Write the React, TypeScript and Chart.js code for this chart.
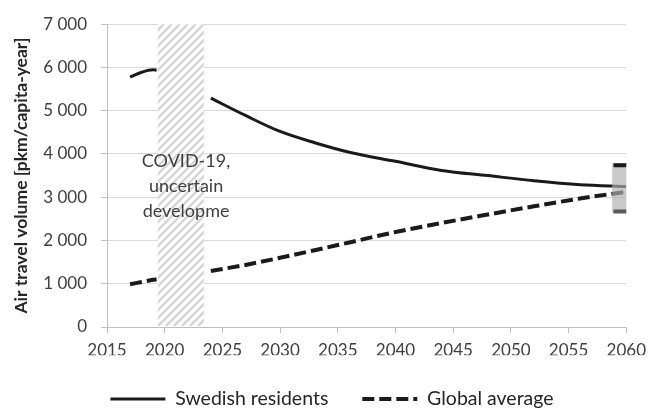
import React, { useEffect, useRef } from "react";
import { Chart, registerables } from "chart.js";

Chart.register(...registerables);

// ---- data ----
const years = [2017, 2018, 2019, 2019.3, 2021, 2024, 2027, 2030, 2033, 2036, 2040, 2044, 2048, 2052, 2056, 2060];
const swedishResidents = [5780, 5890, 5945, 5935, null, 5290, 4890, 4520, 4260, 4040, 3830, 3620, 3500, 3380, 3290, 3250];
const globalAverage = [990, 1040, 1090, 1100, null, 1295, 1435, 1600, 1775, 1955, 2195, 2405, 2600, 2790, 2970, 3125];

const xTickYears = [2015, 2020, 2025, 2030, 2035, 2040, 2045, 2050, 2055, 2060];
const yTickValues = [0, 1000, 2000, 3000, 4000, 5000, 6000, 7000];

const covidStart = 2019.4;
const covidEnd = 2023.4;
const covidTop = 7000;
const covidLabel = ["COVID-19,", "uncertain", "developme"];
const covidLabelYear = 2021.85;
const covidLabelValue = 3690;

const rangeYear = 2059.5;
const rangeLow = 2650;
const rangeHigh = 3780;
const capHigh = [3740];
const capLow = [2670];

const seriesNames = ["Swedish residents", "Global average"];
const yTitle = "Air travel volume [pkm/capita-year]";

// ---- styles ----
const FONT = "Lato, 'Open Sans', sans-serif";
const TICK_COLOR = "#404040";
const PAD_LEFT = 32;
const CHART_LEFT = 107;
const LEGEND_FONT = 19.5;
const LEGEND_PAD = 34;
const X_AXIS_H = 28.25;

const fmt = (v: number) => String(v).replace(/\B(?=(\d{3})+(?!\d))/g, " ");

const covidPlugin = {
  id: "covidBand",
  beforeDatasetsDraw(chart: any) {
    const { ctx, scales } = chart;
    const x = scales.x, y = scales.y;
    const left = x.getPixelForValue(covidStart);
    const right = x.getPixelForValue(covidEnd);
    const top = y.getPixelForValue(covidTop);
    const bottom = y.getPixelForValue(0) - 1;
    ctx.save();
    ctx.fillStyle = "#ffffff";
    ctx.fillRect(left, top, right - left, bottom - top);
    ctx.beginPath();
    ctx.rect(left, top, right - left, bottom - top);
    ctx.clip();
    ctx.beginPath();
    ctx.strokeStyle = "#d6d6d6";
    ctx.lineWidth = 2.6;
    const h = bottom - top;
    for (let s = left - h - 10; s < right + 10; s += 8) {
      ctx.moveTo(s, bottom);
      ctx.lineTo(s + h, top);
    }
    ctx.stroke();
    ctx.restore();
  },
  afterDatasetsDraw(chart: any) {
    const { ctx, scales } = chart;
    const cx = scales.x.getPixelForValue(covidLabelYear);
    const by = scales.y.getPixelForValue(covidLabelValue);
    ctx.save();
    ctx.font = `18px ${FONT}`;
    ctx.fillStyle = TICK_COLOR;
    ctx.textAlign = "center";
    ctx.textBaseline = "alphabetic";
    covidLabel.forEach((t, i) => ctx.fillText(t, cx, by + i * 25));
    ctx.restore();
  },
};

export default function App() {
  const ref = useRef<HTMLCanvasElement>(null);
  useEffect(() => {
    const toPts = (vals: (number | null)[]) => years.map((yr, i) => ({ x: yr, y: vals[i] }));
    const chart = new Chart(ref.current as HTMLCanvasElement, {
      type: "line",
      data: {
        datasets: [
          {
            type: "line",
            label: seriesNames[0],
            data: toPts(swedishResidents),
            borderColor: "#1a1a1a",
            backgroundColor: "#1a1a1a",
            borderWidth: 3,
            pointRadius: 0,
            spanGaps: false,
            cubicInterpolationMode: "monotone",
            order: 2,
          },
          {
            type: "line",
            label: seriesNames[1],
            data: toPts(globalAverage),
            borderColor: "#1a1a1a",
            backgroundColor: "#1a1a1a",
            borderWidth: 4,
            borderDash: [12, 5],
            pointRadius: 0,
            spanGaps: false,
            cubicInterpolationMode: "monotone",
            order: 2,
          },
          {
            type: "bar",
            label: "range",
            data: [{ x: rangeYear, y: [rangeLow, rangeHigh] }],
            backgroundColor: "rgba(175,175,175,0.68)",
            borderWidth: 0,
            barThickness: 16,
            order: 1,
          },
          {
            type: "line",
            label: "capHigh",
            data: capHigh.map((v) => ({ x: rangeYear, y: v })),
            showLine: false,
            pointStyle: "line",
            pointRadius: 7,
            pointBorderWidth: 4,
            pointBorderColor: "#1a1a1a",
            order: 0,
          },
          {
            type: "line",
            label: "capLow",
            data: capLow.map((v) => ({ x: rangeYear, y: v })),
            showLine: false,
            pointStyle: "line",
            pointRadius: 7,
            pointBorderWidth: 4,
            pointBorderColor: "#595959",
            order: 0,
          },
        ] as any,
      },
      options: {
        animation: false,
        responsive: false,
        events: [],
        layout: { padding: { top: 18, right: 21, left: PAD_LEFT, bottom: -9.75 } },
        plugins: {
          tooltip: { enabled: false },
          legend: {
            position: "bottom",
            labels: {
              usePointStyle: true,
              pointStyle: "line",
              pointStyleWidth: 55,
              padding: LEGEND_PAD,
              color: "#262626",
              font: { family: FONT, size: LEGEND_FONT },
              generateLabels: (ch: any) =>
                ch.data.datasets.slice(0, 2).map((ds: any, i: number) => ({
                  text: ds.label,
                  datasetIndex: i,
                  fillStyle: ds.borderColor,
                  strokeStyle: ds.borderColor,
                  lineWidth: ds.borderWidth,
                  lineDash: ds.borderDash || [],
                  lineCap: "butt",
                  pointStyle: "line",
                  hidden: false,
                  fontColor: "#262626",
                })),
            },
          },
        },
        scales: {
          x: {
            type: "linear",
            min: xTickYears[0],
            max: xTickYears[xTickYears.length - 1],
            offset: false,
            afterBuildTicks: (s: any) => {
              s.ticks = xTickYears.map((v) => ({ value: v }));
            },
            afterFit: (s: any) => {
              s.height = X_AXIS_H;
            },
            ticks: {
              callback: (v: any) => String(v),
              color: TICK_COLOR,
              font: { family: FONT, size: 17 },
              padding: 7,
              maxRotation: 0,
              autoSkip: false,
            },
            grid: {
              offset: false,
              drawOnChartArea: false,
              drawTicks: true,
              tickLength: 6,
              tickColor: "#bfbfbf",
            },
            border: { color: "#bfbfbf" },
          },
          y: {
            type: "linear",
            min: yTickValues[0],
            max: yTickValues[yTickValues.length - 1],
            afterBuildTicks: (s: any) => {
              s.ticks = yTickValues.map((v) => ({ value: v }));
            },
            afterFit: (s: any) => {
              s.width = CHART_LEFT - PAD_LEFT;
            },
            ticks: {
              callback: (v: any) => fmt(Number(v)),
              color: TICK_COLOR,
              font: { family: FONT, size: 17 },
              padding: 14,
            },
            grid: { color: "#d9d9d9", tickColor: "#bfbfbf", tickLength: 6 },
            border: { color: "#bfbfbf" },
            title: {
              display: true,
              text: yTitle,
              color: "#262626",
              font: { family: FONT, size: 17.5, weight: "bold" },
              padding: { top: 11 - PAD_LEFT, bottom: 0 },
            },
          },
        },
      } as any,
      plugins: [covidPlugin],
    });
    return () => chart.destroy();
  }, []);
  return (
    <div style={{ position: "absolute", left: 0, top: 0, width: 653, height: 409, background: "#fff" }}>
      <canvas ref={ref} width={653} height={409} style={{ display: "block" }} />
    </div>
  );
}
